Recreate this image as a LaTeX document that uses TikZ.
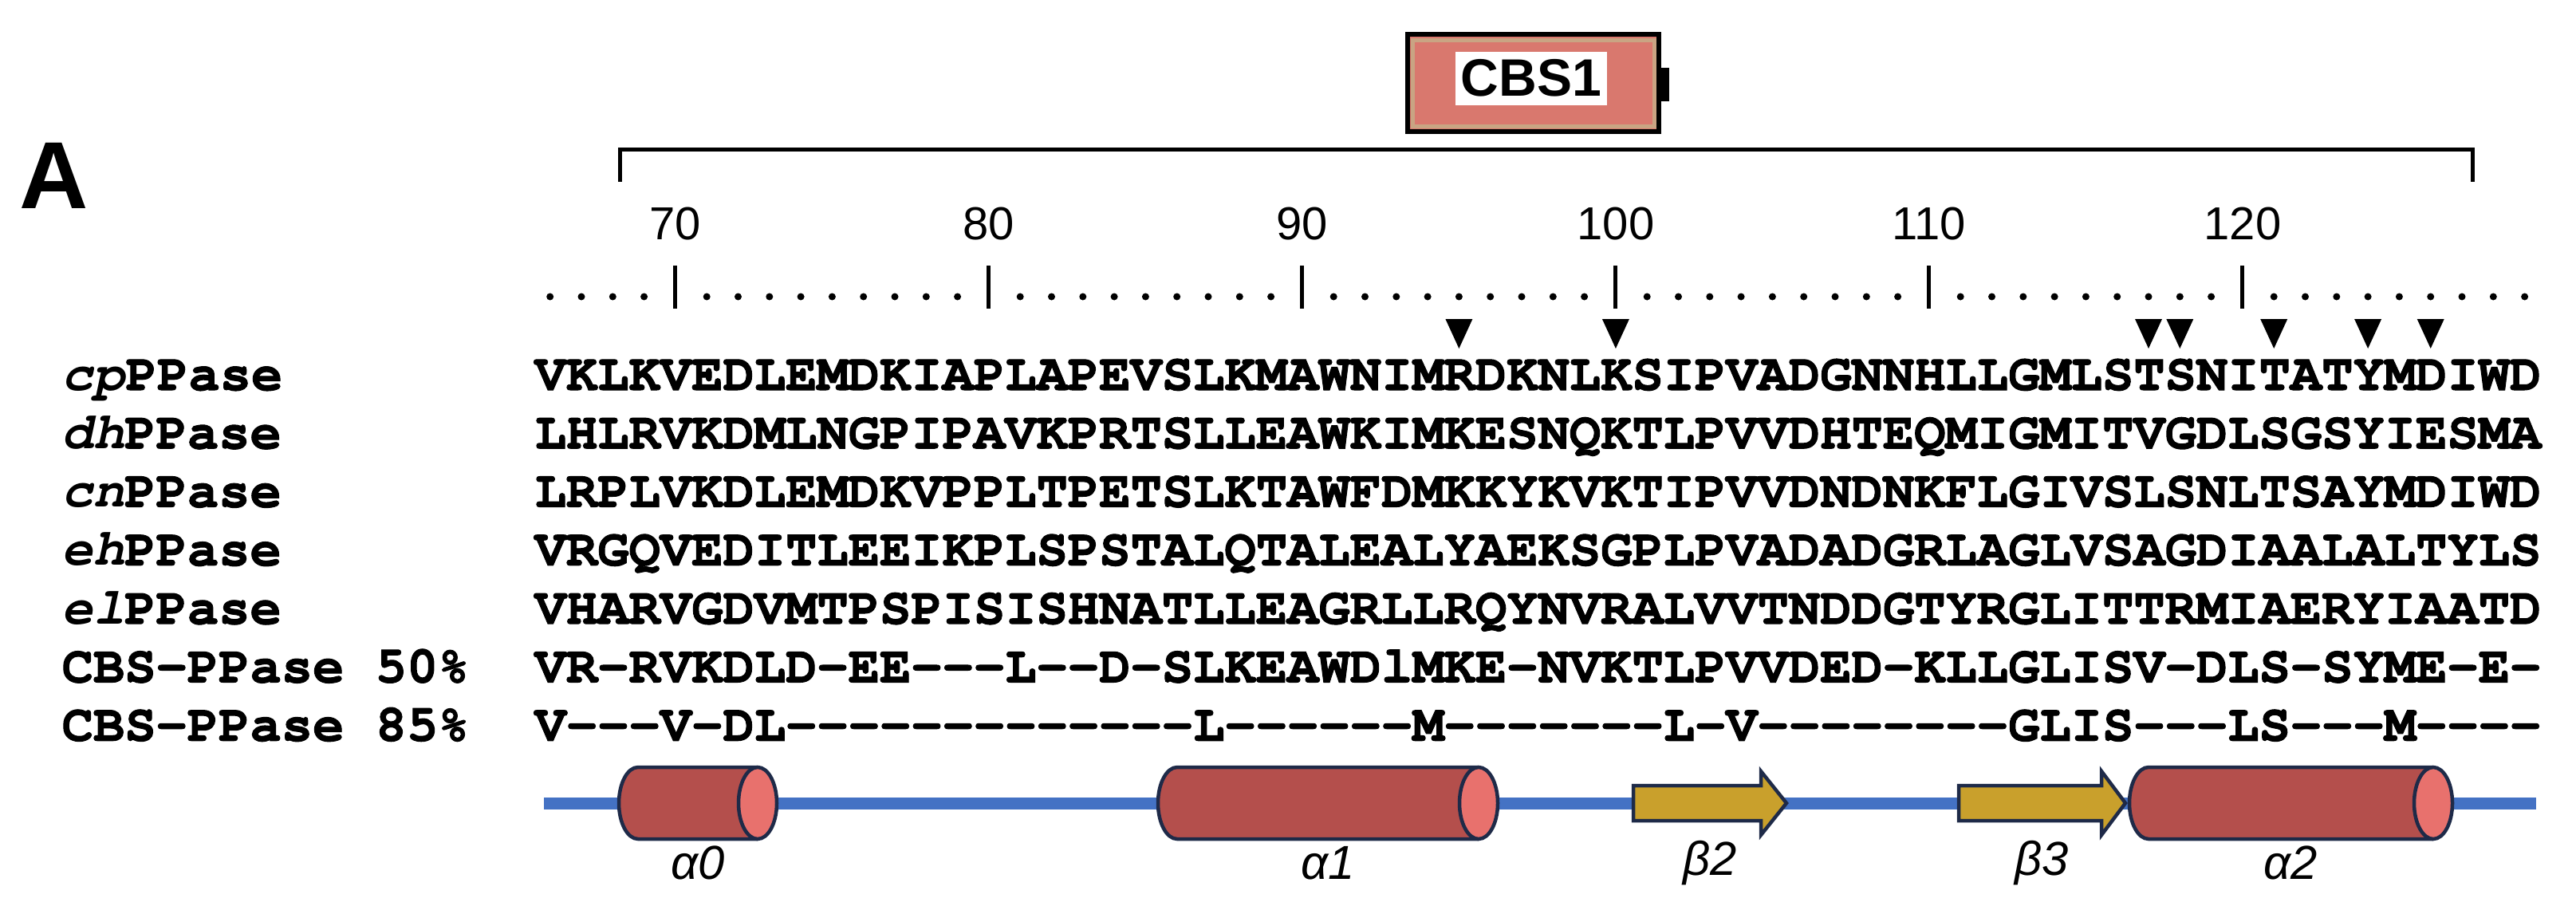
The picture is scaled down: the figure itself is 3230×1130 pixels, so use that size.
\documentclass[tikz,border=0pt]{standalone}
\usepackage{fontspec}
\setmainfont{Liberation Sans}
\setmonofont{TeX Gyre Cursor}[Ligatures=TeXOff, BoldFeatures={FakeBold=1.5}]
\usepackage{tikz}
\usepackage{xcolor}
\definecolor{helixred}{HTML}{B44F4C}
\definecolor{helixface}{HTML}{E8716D}
\definecolor{strandgold}{HTML}{C9A02C}
\definecolor{ssnavy}{HTML}{1E2A48}
\definecolor{coilblue}{HTML}{4472C4}
\definecolor{cbssalmon}{HTML}{D9786E}
\definecolor{cbstan}{HTML}{C9A483}
\newcommand{\seqfont}{\ttfamily\bfseries\fontsize{18.64}{22}\selectfont}
\tikzset{seqrow/.style={anchor=base west, inner sep=0, font=\seqfont},
 rnum/.style={inner sep=0, font=\fontsize{16.5}{18}\selectfont},
 rtick/.style={line width=0.5mm},
 mark tri/.style={fill=black},
 helix/.style={draw=ssnavy, line width=0.45mm, fill=helixred},
 hface/.style={draw=ssnavy, line width=0.45mm, fill=helixface},
 strand/.style={draw=ssnavy, line width=0.45mm, fill=strandgold},
 sslabel/.style={inner sep=0, font=\fontsize{17}{20}\selectfont\itshape},
 }

\begin{document}
\begin{tikzpicture}[x=0.1mm, y=-0.1mm]
        \useasboundingbox (0,0) rectangle (3230,1130);
        \node[inner sep=0, font=\bfseries\fontsize{34}{40}\selectfont] (panelA) at (68,220) {A};
        
        % CBS1 domain and its bracket
        \draw[line width=0.6mm, fill=cbssalmon] (1765,43) rectangle (2080,165);
        \draw[cbstan, line width=0.5mm] (1771,50) rectangle (2074,158);
        \fill (2080,85) rectangle (2093,127);
        \node[fill=white, minimum width=19mm, minimum height=6.7mm, inner sep=0,
            font=\bfseries\fontsize{18.8}{22}\selectfont] (cbs) at (1920,98) {CBS1};
        \coordinate (cbsL) at (777,228);
        \coordinate (cbsR) at (3100,228);
        \draw[line width=0.5mm] (cbsL) -- ++(0,-41) -| (cbsR);
        
        % ruler
        \foreach \r in {66,...,129} {
            \pgfmathtruncatemacro{\m}{mod(\r,10)}
            \ifnum\m=0
                \draw[rtick] ({689.7+39.3*(\r-66)},333) -- ++(0,54);
                \node[rnum] (num\r) at ({689.7+39.3*(\r-66)},281) {\r};
            \else
                \fill ({689.7+39.3*(\r-66)},372) circle (0.45mm);
            \fi
        }
        \foreach \r in {95, 100, 117, 118, 121, 124, 126} {
            \fill[mark tri] ({689.7+39.3*(\r-66)-17},400) -- ++(34,0) -- ++(-17,37) -- cycle;
        }
        
        % alignment
        \foreach \n/\s [count=\i] in {{\textit{cp}PPase}/VKLKVEDLEMDKIAPLAPEVSLKMAWNIMRDKNLKSIPVADGNNHLLGMLSTSNITATYMDIWD,
            {\textit{dh}PPase}/LHLRVKDMLNGPIPAVKPRTSLLEAWKIMKESNQKTLPVVDHTEQMIGMITVGDLSGSYIESMA,
            {\textit{cn}PPase}/LRPLVKDLEMDKVPPLTPETSLKTAWFDMKKYKVKTIPVVDNDNKFLGIVSLSNLTSAYMDIWD,
            {\textit{eh}PPase}/VRGQVEDITLEEIKPLSPSTALQTALEALYAEKSGPLPVADADGRLAGLVSAGDIAALALTYLS,
            {\textit{el}PPase}/VHARVGDVMTPSPISISHNATLLEAGRLLRQYNVRALVVTNDDGTYRGLITTRMIAERYIAATD,
            {CBS-PPase 50\%}/VR-RVKDLD-EE---L--D-SLKEAWDlMKE-NVKTLPVVDED-KLLGLISV-DLS-SYME—E-,
            {CBS-PPase 85\%}/V---V-DL-------------L------M-------L-V--------GLIS---LS---M----} {
            \node[seqrow] (seqname\i) at (77,{489+73.3*(\i-1)}) {\n};
            \node[seqrow] (seq\i) at (670,{489+73.3*(\i-1)}) {\s};
        }
        
        % secondary structure
        \draw[coilblue, line width=1.5mm] (682,1007) -- (3180,1007);
        \foreach \l/\h/\t/\k in {2048/2208/2240/2, 2456/2635/2665/3} {
            \draw[strand] (\l,985) -- (\h,985) -- (\h,967) -- (\t,1007) -- (\h,1047) -- (\h,1029) -- (\l,1029) -- cycle;
            \node[sslabel] (beta\k) at ({(\l+\t)/2},1082) {β\k};
        }
        \foreach \l/\r/\k in {800/950/0, 1476/1854/1, 2694/3051/2} {
            \fill[helixred] (\r,962) -- (\l,962) arc[start angle=90, end angle=270, x radius=2.4mm, y radius=4.5mm] -- (\r,1052) -- cycle;
            \draw[helix, fill=none] (\r,962) -- (\l,962) arc[start angle=90, end angle=270, x radius=2.4mm, y radius=4.5mm] -- (\r,1052);
            \draw[hface] (\r,1007) ellipse [x radius=2.4mm, y radius=4.5mm];
            \node[sslabel] (alpha\k) at ({(\l+\r)/2},1082) {α\k};
        }
    \end{tikzpicture}
\end{document}
